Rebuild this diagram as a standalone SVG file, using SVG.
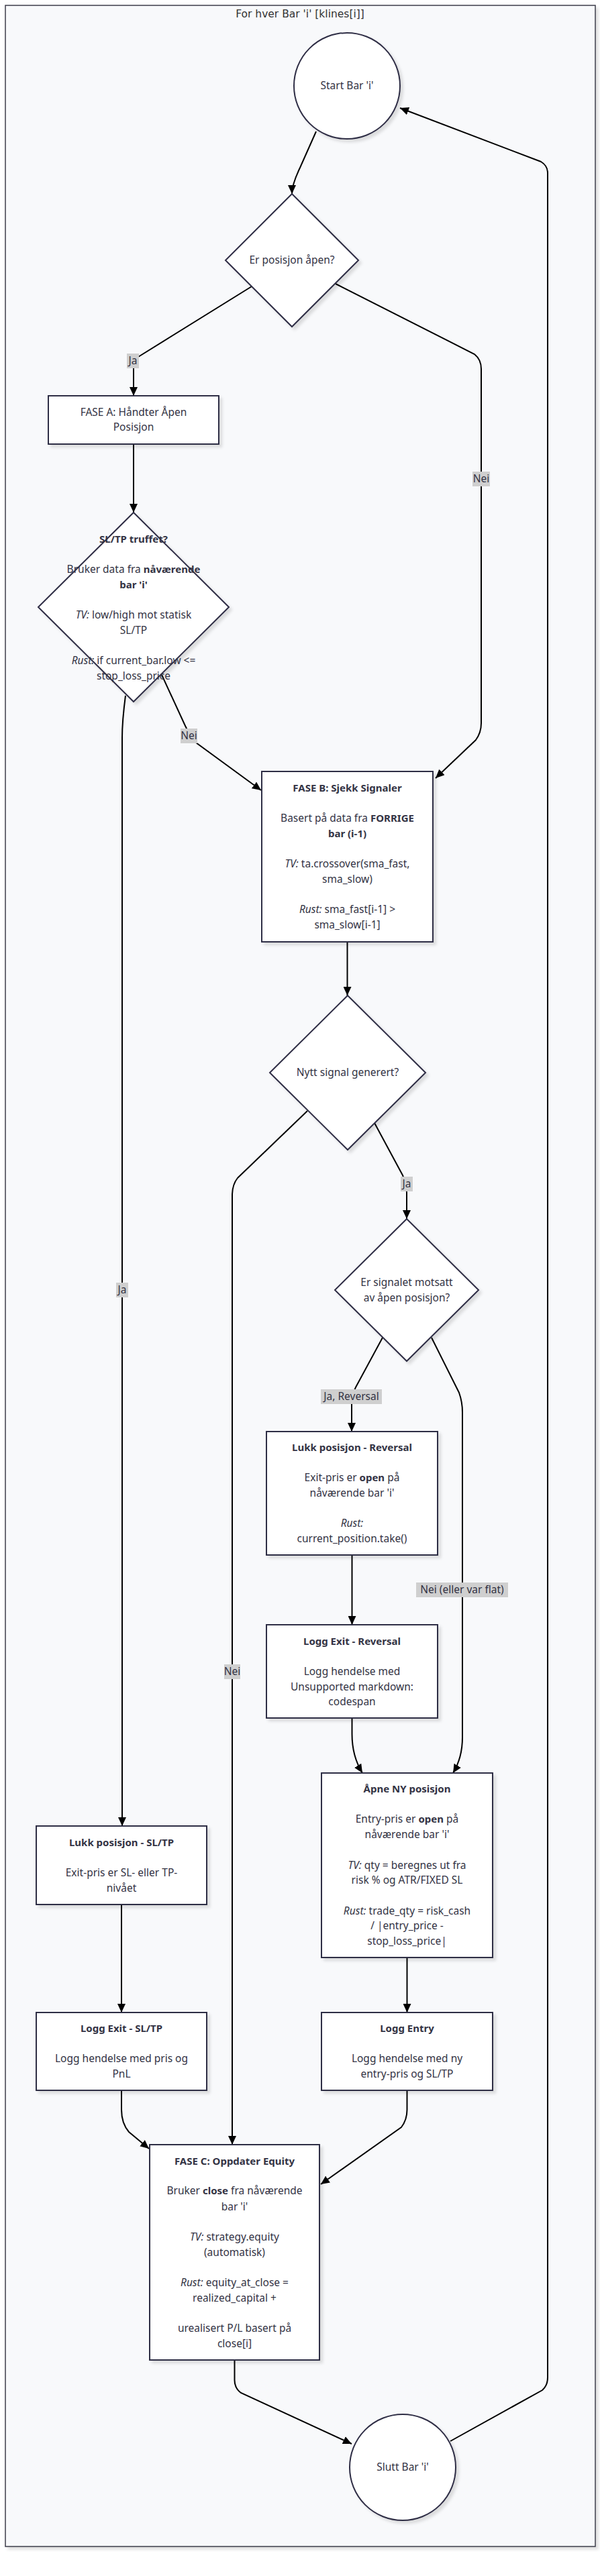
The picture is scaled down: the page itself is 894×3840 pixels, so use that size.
<svg xmlns="http://www.w3.org/2000/svg" width="894" height="3840" viewBox="0 0 894 3840">
<style>
.shape{fill:#ffffff;stroke:#2f2d45;stroke-width:2;filter:url(#sh)}
.edge{fill:none;stroke:#000;stroke-width:2;marker-end:url(#ah)}
.t{font-family:"Noto Sans","Liberation Sans",sans-serif;font-size:15.5px;fill:#333344;text-anchor:middle}
.b{font-weight:bold;font-size:15px}
.i{font-style:italic}
.lb{fill:#cfcfcf}
.title{font-family:"DejaVu Sans","Liberation Sans",sans-serif;font-size:15.5px;fill:#333;text-anchor:middle}
</style>
<defs>
<filter id="sh" x="-10%" y="-10%" width="130%" height="130%">
<feDropShadow dx="4" dy="4" stdDeviation="2" flood-color="#000" flood-opacity="0.12"/>
</filter>
<marker id="ah" viewBox="0 0 13 12" refX="13" refY="6" markerWidth="13" markerHeight="12" markerUnits="userSpaceOnUse" orient="auto">
<path d="M0,0 L13,6 L0,12 z" fill="#000"/>
</marker>
</defs>
<rect width="894" height="3840" fill="#ffffff"/>
<g id="cluster">
<rect x="8" y="8" width="879" height="3788" fill="#f8f9fb" stroke="#3c3c4a" stroke-width="1.5" style="filter:url(#sh)"/>
<text class="title" x="447" y="26">For hver Bar 'i' [klines[i]]</text>
</g>
<g id="edges">
<path class="edge" d="M471,196 L447,250 Q435,275 435,289"/>
<path class="edge" d="M375,427 L206,532 Q199,537 199,547 L199,590"/>
<path class="edge" d="M500,423 L707,528 Q717,536 717,550 L717,1078 Q717,1092 709,1103 L649,1160"/>
<path class="edge" d="M199,662 L199,764"/>
<path class="edge" d="M187,1037 Q182,1075 182,1100 L182,2722"/>
<path class="edge" d="M241,1006 L276,1082 Q282,1095 292,1107 L389,1178"/>
<path class="edge" d="M517.5,1404 L517.5,1484"/>
<path class="edge" d="M558,1674 L600,1752 Q606,1765 606,1778 L606,1817"/>
<path class="edge" d="M458,1656 L354,1756 Q346,1766 346,1782 L346,3197"/>
<path class="edge" d="M570,1994 L530,2068 Q524,2080 524,2094 L524,2134"/>
<path class="edge" d="M643,1994 L684,2076 Q689,2090 689,2105 L689,2590 Q689,2620 675,2643"/>
<path class="edge" d="M524.5,2318 L524.5,2422"/>
<path class="edge" d="M524.5,2561 L524.5,2585 Q524.5,2618 540,2643"/>
<path class="edge" d="M606.5,2918 L606.5,3000"/>
<path class="edge" d="M181,2839 L181,3000"/>
<path class="edge" d="M181,3116 L181,3145 Q181,3165 192,3178 L222,3203"/>
<path class="edge" d="M606.5,3116 L606.5,3145 Q606.5,3160 598,3171 L478,3256"/>
<path class="edge" d="M349.5,3518 L349.5,3548 Q349.5,3560 359,3567 L524,3643"/>
<path class="edge" d="M671,3639 L808,3563 Q816,3556 816,3544 L816,258 Q816,247 806,241 L596,161"/>
</g>
<g id="start">
<circle class="shape" cx="517" cy="128" r="79"/>
<text class="t" x="517" y="133">Start Bar 'i'</text>
</g>
<g id="d_open">
<polygon class="shape" points="435,289 534,388 435,487 336,388"/>
<text class="t" x="435" y="393">Er posisjon åpen?</text>
</g>
<g id="fase_a">
<rect class="shape" x="72" y="590" width="254" height="72"/>
<text class="t" x="199" y="620">FASE A: Håndter Åpen</text>
<text class="t" x="199" y="642">Posisjon</text>
</g>
<g id="d_sltp">
<polygon class="shape" points="199,764 341,905 199,1046 57,905"/>
<text class="t b" x="199" y="809">SL/TP truffet?</text>
<text class="t" x="199" y="854">Bruker data fra <tspan class="b">nåværende</tspan></text>
<text class="t b" x="199" y="877">bar 'i'</text>
<text class="t" x="199" y="922"><tspan class="i">TV:</tspan> low/high mot statisk</text>
<text class="t" x="199" y="945">SL/TP</text>
<text class="t" x="199" y="990"><tspan class="i">Rust:</tspan> if current_bar.low &lt;=</text>
<text class="t" x="199" y="1013">stop_loss_price</text>
</g>
<g id="fase_b">
<rect class="shape" x="390" y="1150" width="255" height="254"/>
<text class="t b" x="517.5" y="1180">FASE B: Sjekk Signaler</text>
<text class="t" x="517.5" y="1225">Basert på data fra <tspan class="b">FORRIGE</tspan></text>
<text class="t b" x="517.5" y="1248">bar (i-1)</text>
<text class="t" x="517.5" y="1293"><tspan class="i">TV:</tspan> ta.crossover(sma_fast,</text>
<text class="t" x="517.5" y="1316">sma_slow)</text>
<text class="t" x="517.5" y="1361"><tspan class="i">Rust:</tspan> sma_fast[i-1] &gt;</text>
<text class="t" x="517.5" y="1384">sma_slow[i-1]</text>
</g>
<g id="d_signal">
<polygon class="shape" points="518,1484 634,1599 518,1714 402,1599"/>
<text class="t" x="518" y="1604">Nytt signal generert?</text>
</g>
<g id="d_opposite">
<polygon class="shape" points="606,1817 713,1923 606,2029 499,1923"/>
<text class="t" x="606" y="1917">Er signalet motsatt</text>
<text class="t" x="606" y="1940">av åpen posisjon?</text>
</g>
<g id="close_rev">
<rect class="shape" x="397" y="2134" width="255" height="184"/>
<text class="t b" x="524.5" y="2163">Lukk posisjon - Reversal</text>
<text class="t" x="524.5" y="2208">Exit-pris er <tspan class="b">open</tspan> på</text>
<text class="t" x="524.5" y="2231">nåværende bar 'i'</text>
<text class="t i" x="524.5" y="2276">Rust:</text>
<text class="t" x="524.5" y="2299">current_position.take()</text>
</g>
<g id="log_exit_rev">
<rect class="shape" x="397" y="2422" width="255" height="139"/>
<text class="t b" x="524.5" y="2452">Logg Exit - Reversal</text>
<text class="t" x="524.5" y="2497">Logg hendelse med</text>
<text class="t" x="524.5" y="2520">Unsupported markdown:</text>
<text class="t" x="524.5" y="2542">codespan</text>
</g>
<g id="open_new">
<rect class="shape" x="479" y="2643" width="255" height="275"/>
<text class="t b" x="606.5" y="2672">Åpne NY posisjon</text>
<text class="t" x="606.5" y="2717">Entry-pris er <tspan class="b">open</tspan> på</text>
<text class="t" x="606.5" y="2740">nåværende bar 'i'</text>
<text class="t" x="606.5" y="2786"><tspan class="i">TV:</tspan> qty = beregnes ut fra</text>
<text class="t" x="606.5" y="2808">risk % og ATR/FIXED SL</text>
<text class="t" x="606.5" y="2854"><tspan class="i">Rust:</tspan> trade_qty = risk_cash</text>
<text class="t" x="606.5" y="2876">/ |entry_price -</text>
<text class="t" x="606.5" y="2899">stop_loss_price|</text>
</g>
<g id="close_sltp">
<rect class="shape" x="54" y="2722" width="254" height="117"/>
<text class="t b" x="181" y="2752">Lukk posisjon - SL/TP</text>
<text class="t" x="181" y="2797">Exit-pris er SL- eller TP-</text>
<text class="t" x="181" y="2820">nivået</text>
</g>
<g id="log_exit_sltp">
<rect class="shape" x="54" y="3000" width="254" height="116"/>
<text class="t b" x="181" y="3029">Logg Exit - SL/TP</text>
<text class="t" x="181" y="3074">Logg hendelse med pris og</text>
<text class="t" x="181" y="3097">PnL</text>
</g>
<g id="log_entry">
<rect class="shape" x="479" y="3000" width="255" height="116"/>
<text class="t b" x="606.5" y="3029">Logg Entry</text>
<text class="t" x="606.5" y="3074">Logg hendelse med ny</text>
<text class="t" x="606.5" y="3097">entry-pris og SL/TP</text>
</g>
<g id="fase_c">
<rect class="shape" x="223" y="3197" width="253" height="321"/>
<text class="t b" x="349.5" y="3227">FASE C: Oppdater Equity</text>
<text class="t" x="349.5" y="3271">Bruker <tspan class="b">close</tspan> fra nåværende</text>
<text class="t" x="349.5" y="3295">bar 'i'</text>
<text class="t" x="349.5" y="3340"><tspan class="i">TV:</tspan> strategy.equity</text>
<text class="t" x="349.5" y="3363">(automatisk)</text>
<text class="t" x="349.5" y="3408"><tspan class="i">Rust:</tspan> equity_at_close =</text>
<text class="t" x="349.5" y="3431">realized_capital +</text>
<text class="t" x="349.5" y="3476">urealisert P/L basert på</text>
<text class="t" x="349.5" y="3499">close[i]</text>
</g>
<g id="end">
<circle class="shape" cx="600" cy="3678" r="79"/>
<text class="t" x="600" y="3683">Slutt Bar 'i'</text>
</g>
<g id="edge-labels">
<rect class="lb" x="189" y="527" width="18" height="22"/>
<text class="t" x="198" y="543">Ja</text>
<rect class="lb" x="704" y="703" width="26" height="22"/>
<text class="t" x="717" y="719">Nei</text>
<rect class="lb" x="269" y="1086" width="25" height="22"/>
<text class="t" x="281.5" y="1102">Nei</text>
<rect class="lb" x="597" y="1754" width="18" height="22"/>
<text class="t" x="606" y="1770">Ja</text>
<rect class="lb" x="173" y="1912" width="18" height="22"/>
<text class="t" x="182" y="1928">Ja</text>
<rect class="lb" x="478" y="2071" width="91" height="22"/>
<text class="t" x="523.5" y="2087">Ja, Reversal</text>
<rect class="lb" x="620" y="2359" width="137" height="22"/>
<text class="t" x="688.5" y="2375">Nei (eller var flat)</text>
<rect class="lb" x="334" y="2481" width="24" height="22"/>
<text class="t" x="346" y="2497">Nei</text>
</g>
</svg>
